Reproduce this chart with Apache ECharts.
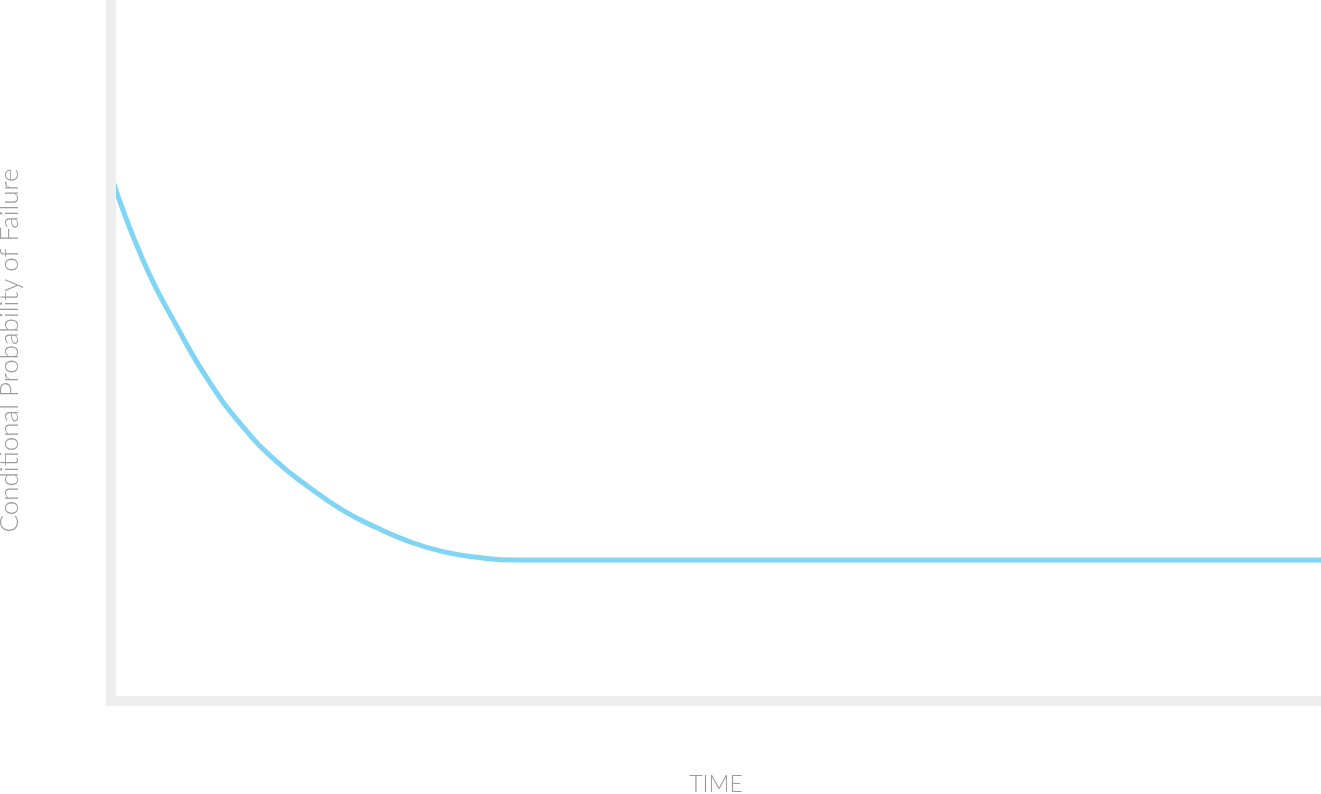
<!DOCTYPE html>
<html>
<head>
<meta charset="utf-8">
<script src="https://cdn.jsdelivr.net/npm/echarts@6/dist/echarts.min.js"></script>
<style>
  html, body { margin: 0; padding: 0; background: #fff; }
  #chart { width: 1321px; height: 794px; }
</style>
</head>
<body>
<div id="chart"></div>
<script>
// 条件失效概率 - 早期失效曲线
var timeValues = [0, 2.64, 5.45, 8.18, 10.91, 13.72, 16.45, 19.17, 21.98, 24.71, 27.44, 30.25, 33.4, 100];
var probValues = [75.0, 62.9, 53.4, 45.4, 39.1, 34.1, 30.4, 27.2, 24.7, 22.7, 21.3, 20.5, 20.1, 20.1];
var xName = 'TIME';
var yName = 'Conditional Probability of Failure';

(function(){

var chart = echarts.init(document.getElementById('chart'));

var points = timeValues.map(function (t, i) { return [t, probValues[i]]; });

var axisLine = {
    show: true,
    lineStyle: { color: '#eeeeee', width: 10, cap: 'square' }
};

var nameStyle = {
    color: '#9b9b9b',
    fontFamily: 'Lato',
    fontWeight: 300
};

option = {
    animation: false,
    grid: {
        left: 111,
        right: 0,
        top: 0,
        bottom: 93,
        containLabel: false,
        outerBoundsMode: 'none'
    },
    xAxis: {
        type: 'value',
        min: 0,
        max: 100,
        z: 5,
        name: xName,
        nameLocation: 'middle',
        nameGap: 72,
        nameTextStyle: Object.assign({ fontSize: 23 }, nameStyle),
        axisLine: axisLine,
        axisTick: { show: false },
        axisLabel: { show: false },
        splitLine: { show: false }
    },
    yAxis: {
        type: 'value',
        min: 0,
        max: 100,
        z: 5,
        name: yName,
        nameLocation: 'middle',
        nameGap: 88,
        nameTextStyle: Object.assign({ fontSize: 26 }, nameStyle),
        axisLine: axisLine,
        axisTick: { show: false },
        axisLabel: { show: false },
        splitLine: { show: false }
    },
    series: [
        {
            type: 'line',
            data: points,
            smooth: 0.5,
            showSymbol: false,
            clip: true,
            lineStyle: { color: '#7fd5f3', width: 5 }
        }
    ]
};

chart.setOption(option);
})();
</script>
</body>
</html>
